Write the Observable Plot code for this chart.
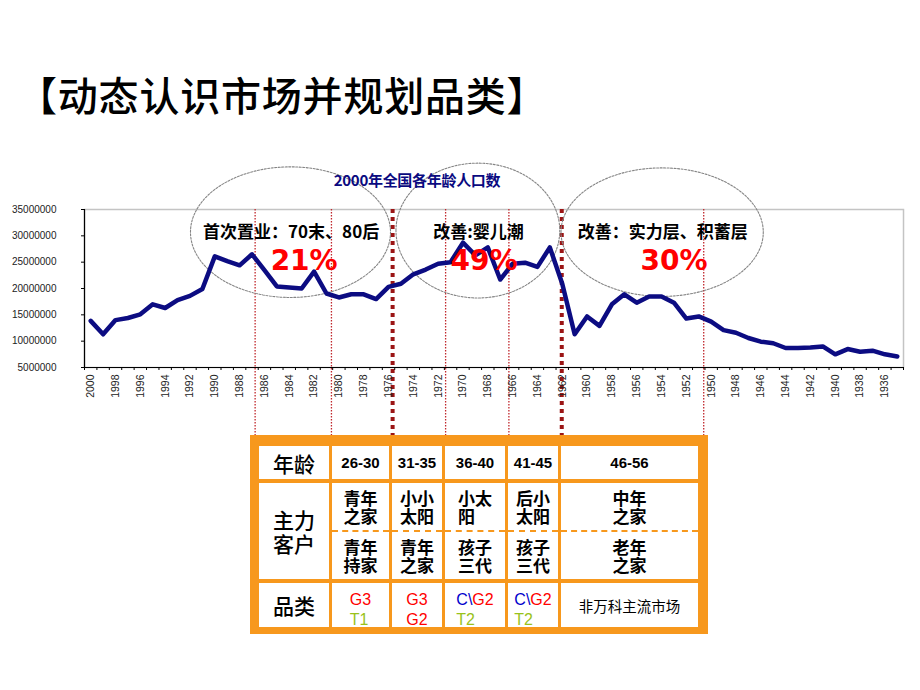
<!DOCTYPE html>
<html><head><meta charset="utf-8">
<script src="https://cdn.jsdelivr.net/npm/d3@7"></script>
<script src="https://cdn.jsdelivr.net/npm/@observablehq/plot@0.6"></script>
<style>
body{margin:0;background:#fff;}
#page{position:relative;width:920px;height:690px;overflow:hidden;font-family:"Noto Sans CJK SC",sans-serif;background:#fff;}
#title{position:absolute;left:17px;top:69px;font-size:40px;line-height:50px;color:#000;white-space:nowrap;font-weight:500;letter-spacing:0.8px;}
#chart{position:absolute;left:0;top:160px;}
#ctitle{position:absolute;left:317px;width:200px;text-align:center;top:171px;font-size:15px;line-height:18px;font-weight:bold;color:#0a0a80;white-space:nowrap;letter-spacing:-0.3px;}
#table{position:absolute;left:250px;top:435px;width:458px;height:199px;box-sizing:border-box;background:#f7981d;padding:11px 10px 7px 9px;display:grid;grid-template-columns:70px 57px 50px 60px 50px 1fr;grid-template-rows:33px 96px 1fr;gap:4px 3px;}
.cell{background:#fff;display:flex;align-items:center;justify-content:center;overflow:hidden;}
.hdr{font-size:21px;line-height:24px;text-align:center;white-space:pre;font-weight:500;}
.age{font-family:"Liberation Sans",Arial,sans-serif;font-weight:bold;font-size:15px;}
.cust{flex-direction:column;align-items:stretch;justify-content:flex-start;}
.half{flex:1;display:flex;align-items:center;justify-content:center;}
.half.top{border-bottom:2px dashed #f7981d;}
.blk{display:inline-block;text-align:left;white-space:pre;font-weight:bold;font-size:17px;line-height:18px;}
.cat{align-items:flex-start;padding-top:7px;box-sizing:border-box;}
.catblk{display:inline-block;text-align:left;font-family:"Liberation Sans",Arial,sans-serif;font-size:16px;line-height:20px;white-space:pre;}
.other{font-size:14.5px;align-items:center;padding-top:0;}
</style>
</head><body>
<div id="page">
  <div id="title">【动态认识市场并规划品类】</div>
  <div id="chart"></div>
  <div id="ctitle">2000年全国各年龄人口数</div>
  <div id="table"></div>
</div>
<script>
// ---- data ----
const years = [2000,1999,1998,1997,1996,1995,1994,1993,1992,1991,1990,1989,1988,1987,1986,1985,1984,1983,1982,1981,1980,1979,1978,1977,1976,1975,1974,1973,1972,1971,1970,1969,1968,1967,1966,1965,1964,1963,1962,1961,1960,1959,1958,1957,1956,1955,1954,1953,1952,1951,1950,1949,1948,1947,1946,1945,1944,1943,1942,1941,1940,1939,1938,1937,1936,1935];
const population = [13850000,11300000,14000000,14400000,15100000,17000000,16300000,17800000,18600000,19900000,26100000,25200000,24400000,26500000,23500000,20400000,20200000,20000000,23200000,19050000,18300000,18900000,18900000,18000000,20300000,20900000,22700000,23600000,24700000,25000000,28700000,26300000,27800000,21700000,24700000,24900000,24100000,27800000,20900000,11300000,14700000,12900000,17000000,18900000,17300000,18500000,18500000,17300000,14300000,14700000,13700000,12100000,11600000,10600000,9900000,9600000,8700000,8700000,8800000,9000000,7500000,8500000,8000000,8200000,7500000,7100000];
const yTicks = [5000000,10000000,15000000,20000000,25000000,30000000,35000000];
const xTickLabels = [2000,1998,1996,1994,1992,1990,1988,1986,1984,1982,1980,1978,1976,1974,1972,1970,1968,1966,1964,1962,1960,1958,1956,1954,1952,1950,1948,1946,1944,1942,1940,1938,1936];
const thinDividers = [1986.75,1980.6,1971.4,1966.3,1950.6];
const thickDividers = [1975.67,1962.04];
const segmentLabels = ["首次置业：70末、80后","改善:婴儿潮","改善：实力层、积蓄层"];
const segmentShares = ["21%","49%","30%"];
const segmentCenterYears = [1983.85,1968.75,1953.9];
const shareCenterYears = [1982.8,1968.3,1953.0];

const rowHeaders = ["年龄","主力\n客户","品类"];
const ageGroups = ["26-30","31-35","36-40","41-45","46-56"];
const customersA = ["青年\n之家","小小\n太阳","小太\n阳","后小\n太阳","中年\n之家"];
const customersB = ["青年\n持家","青年\n之家","孩子\n三代","孩子\n三代","老年\n之家"];
const productLines = [["G3","T1"],["G3","G2"],["C\\G2","T2"],["C\\G2","T2"],["非万科主流市场"]];

// ---- annotation geometry (data space) ----
const ellipses = [
  {id:0, cx:1983.9, cy:30.7e6, rx:8.06, ry:12.4e6},
  {id:1, cx:1968.8, cy:31.0e6, rx:6.6, ry:12.8e6},
  {id:2, cx:1953.95, cy:30.7e6, rx:8.15, ry:12.2e6}
];
const ellipsePts = ellipses.flatMap(e => d3.range(0, 361, 2).map(a => ({
  id: e.id, x: e.cx + e.rx*Math.cos(a*Math.PI/180), y: e.cy + e.ry*Math.sin(a*Math.PI/180)})));
const ruleTop = 35e6, ruleBottom = -8.3e6;
const labelY = 30.6e6, shareY = 25.3e6;

const series = years.map((y,i) => ({year:y, value:population[i]}));
const boundaries = d3.range(0, years.length + 1).map(i => 2000.5 - i);

const chart = Plot.plot({
  width: 920, height: 290,
  marginLeft: 84, marginRight: 17, marginTop: 49, marginBottom: 83,
  x: {domain: [2000.5, 1934.5]},
  y: {domain: [5e6, 35e6]},
  style: {fontFamily: "'Liberation Sans', Arial, sans-serif", background: "transparent", overflow: "visible", color: "#222"},
  marks: [
    Plot.frame({stroke: "#c4c4c4", strokeWidth: 1.5}),
    Plot.ruleX(thinDividers, {y1: ruleTop, y2: ruleBottom, stroke: "#c0282d", strokeWidth: 1.3, strokeDasharray: "1.5,1.5"}),
    Plot.ruleX(thickDividers, {y1: ruleTop, y2: ruleBottom, stroke: "#9b1515", strokeWidth: 4, strokeDasharray: "4,4"}),
    Plot.axisY({ticks: yTicks, tickFormat: d => String(d), tickSize: 3, tickPadding: 25, fontSize: 10, label: null, stroke: "#000"}),
    Plot.axisX({ticks: xTickLabels, tickSize: 0, tickRotate: -90, tickPadding: 7, tickFormat: d => String(d), fontSize: 10.5, label: null}),
    Plot.axisX({ticks: boundaries, tickSize: 3, tickFormat: () => "", label: null, stroke: "#000"}),
    Plot.ruleX([2000.5], {stroke: "#000", strokeWidth: 1.2}),
    Plot.ruleY([5e6], {stroke: "#000", strokeWidth: 1.2}),
    Plot.line(ellipsePts, {x: "x", y: "y", z: "id", stroke: "#858585", strokeWidth: 1.1, strokeDasharray: "2,1.5"}),
    Plot.line(series, {x: "year", y: "value", stroke: "#0c0c82", strokeWidth: 4.5, strokeLinejoin: "round", strokeLinecap: "round"}),
    Plot.text(segmentLabels, {x: (d,i) => segmentCenterYears[i], y: () => labelY, text: d => d, fontFamily: "'Noto Sans CJK SC', sans-serif", fontWeight: "bold", fontSize: 17, fill: "#000"}),
    Plot.text(segmentShares, {x: (d,i) => shareCenterYears[i], y: () => shareY, text: d => d, fontFamily: "'DejaVu Sans', sans-serif", fontWeight: "bold", fontSize: 28, fill: "#ff0000"})
  ]
});
document.getElementById("chart").appendChild(chart);

// ---- table ----
const catColor = s => s.startsWith("T") ? "#99c21a" : "#ff0000";
function catHTML(line){
  if (line.startsWith("C\\")) return `<span style="color:#0000cc">C\\</span><span style="color:#ff0000">${line.slice(2)}</span>`;
  return `<span style="color:${catColor(line)}">${line}</span>`;
}
const tbl = document.getElementById("table");
let html = "";
html += `<div class="cell hdr">${rowHeaders[0]}</div>`;
ageGroups.forEach(a => html += `<div class="cell age">${a}</div>`);
html += `<div class="cell hdr">${rowHeaders[1]}</div>`;
customersA.forEach((a,i) => html += `<div class="cell cust"><div class="half top"><span class="blk">${a}</span></div><div class="half"><span class="blk">${customersB[i]}</span></div></div>`);
html += `<div class="cell hdr">${rowHeaders[2]}</div>`;
productLines.forEach(lines => {
  if (lines.length === 1) html += `<div class="cell cat other">${lines[0]}</div>`;
  else html += `<div class="cell cat"><span class="catblk">${lines.map(catHTML).join("\n")}</span></div>`;
});
tbl.innerHTML = html;
</script>
</body></html>
